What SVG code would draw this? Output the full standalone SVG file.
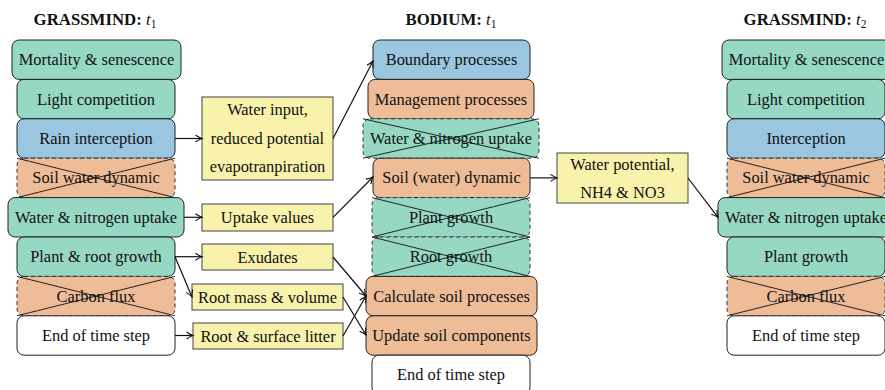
<svg xmlns="http://www.w3.org/2000/svg" width="885" height="390" viewBox="0 0 885 390">
<style>
text{font-family:"Liberation Serif","Times New Roman",serif;fill:#111;}
.lbl{font-size:16.4px;text-anchor:middle;dominant-baseline:central;}
.ttl{font-size:16.8px;text-anchor:middle;font-weight:bold;}
.mi{font-style:italic;font-weight:normal;}
.sub{font-size:11.5px;font-weight:normal;font-style:normal;}
.box{stroke:#222;stroke-width:1;}
.dash{stroke:#333;stroke-width:1;stroke-dasharray:4,3;}
.teal{fill:#97D8C5;}
.blue{fill:#9AC6E0;}
.orange{fill:#EEBD98;}
.white{fill:#fff;}
.yel{fill:#F8F2AC;stroke:#444;stroke-width:1;}
.cross{stroke:#111;stroke-width:0.9;fill:none;}
.conn line{stroke:#111;stroke-width:1.2;marker-end:url(#arr);}
</style>
<defs>
<marker id="arr" markerUnits="userSpaceOnUse" markerWidth="10" markerHeight="10" refX="8" refY="5" orient="auto">
<path d="M1.5,1.5 Q5,4 8,5 Q5,6 1.5,8.5" fill="none" stroke="#111" stroke-width="1.1"/>
</marker>
</defs>

<!-- Titles -->
<text class="ttl" x="95" y="25">GRASSMIND: <tspan class="mi">t</tspan><tspan class="sub" dy="3">1</tspan></text>
<text class="ttl" x="451" y="25">BODIUM: <tspan class="mi">t</tspan><tspan class="sub" dy="3">1</tspan></text>
<text class="ttl" x="805" y="25">GRASSMIND: <tspan class="mi">t</tspan><tspan class="sub" dy="3">2</tspan></text>

<!-- Left column -->
<g id="g1-mortality"><rect class="box teal" x="12" y="40" width="169" height="39.4" rx="7"/><text class="lbl" x="96.5" y="59.7">Mortality &amp; senescence</text></g>
<g id="g1-light"><rect class="box teal" x="17" y="79.4" width="158" height="39.4" rx="7"/><text class="lbl" x="96" y="99.1">Light competition</text></g>
<g id="g1-rain"><rect class="box blue" x="17" y="118.8" width="158" height="39.4" rx="7"/><text class="lbl" x="96" y="138.5">Rain interception</text></g>
<g id="g1-soilwater"><rect class="dash orange" x="17" y="158.2" width="158" height="39.4" rx="7"/><text class="lbl" x="96" y="177.9">Soil water dynamic</text><path class="cross" d="M17,158.2 L175,197.6 M17,197.6 L175,158.2"/></g>
<g id="g1-uptake"><rect class="box teal" x="8" y="197.6" width="176" height="39.4" rx="7"/><text class="lbl" x="96" y="217.3">Water &amp; nitrogen uptake</text></g>
<g id="g1-growth"><rect class="box teal" x="17" y="237" width="158" height="39.4" rx="7"/><text class="lbl" x="96" y="256.7">Plant &amp; root growth</text></g>
<g id="g1-carbon"><rect class="dash orange" x="17" y="276.4" width="158" height="39.4" rx="7"/><text class="lbl" x="96" y="296.1">Carbon flux</text><path class="cross" d="M17,276.4 L175,315.8 M17,315.8 L175,276.4"/></g>
<g id="g1-end"><rect class="box white" x="17" y="315.8" width="158" height="39.4" rx="7"/><text class="lbl" x="96" y="335.5">End of time step</text></g>

<!-- Middle column -->
<g id="b-boundary"><rect class="box blue" x="373" y="40" width="157" height="39.4" rx="7"/><text class="lbl" x="451.5" y="59.7">Boundary processes</text></g>
<g id="b-management"><rect class="box orange" x="368" y="79.4" width="166" height="39.4" rx="7"/><text class="lbl" x="451" y="99.1">Management processes</text></g>
<g id="b-uptake"><rect class="dash teal" x="363" y="118.8" width="176" height="39.4" rx="7"/><text class="lbl" x="451" y="138.5">Water &amp; nitrogen uptake</text><path class="cross" d="M363,118.8 L539,158.2 M363,158.2 L539,118.8"/></g>
<g id="b-soil"><rect class="box orange" x="373" y="158.2" width="157" height="39.4" rx="7"/><text class="lbl" x="451.5" y="177.9">Soil (water) dynamic</text></g>
<g id="b-plant"><rect class="dash teal" x="372" y="197.6" width="158" height="39.4" rx="7"/><text class="lbl" x="451" y="217.3">Plant growth</text><path class="cross" d="M372,197.6 L530,237 M372,237 L530,197.6"/></g>
<g id="b-root"><rect class="dash teal" x="372" y="237" width="158" height="39.4" rx="7"/><text class="lbl" x="451" y="256.7">Root growth</text><path class="cross" d="M372,237 L530,276.4 M372,276.4 L530,237"/></g>
<g id="b-calc"><rect class="box orange" x="366" y="276.4" width="171" height="39.4" rx="7"/><text class="lbl" x="451.5" y="296.1">Calculate soil processes</text></g>
<g id="b-update"><rect class="box orange" x="366" y="315.8" width="171" height="39.4" rx="7"/><text class="lbl" x="451.5" y="335.5">Update soil components</text></g>
<g id="b-end"><rect class="box white" x="372" y="355.2" width="158" height="39.4" rx="7"/><text class="lbl" x="451" y="374.9">End of time step</text></g>

<!-- Right column -->
<g id="g2-mortality"><rect class="box teal" x="722" y="40" width="169" height="39.4" rx="7"/><text class="lbl" x="806.5" y="59.7">Mortality &amp; senescence</text></g>
<g id="g2-light"><rect class="box teal" x="727" y="79.4" width="158" height="39.4" rx="7"/><text class="lbl" x="806" y="99.1">Light competition</text></g>
<g id="g2-interception"><rect class="box blue" x="727" y="118.8" width="158" height="39.4" rx="7"/><text class="lbl" x="806" y="138.5">Interception</text></g>
<g id="g2-soilwater"><rect class="dash orange" x="727" y="158.2" width="158" height="39.4" rx="7"/><text class="lbl" x="806" y="177.9">Soil water dynamic</text><path class="cross" d="M727,158.2 L885,197.6 M727,197.6 L885,158.2"/></g>
<g id="g2-uptake"><rect class="box teal" x="718" y="197.6" width="176" height="39.4" rx="7"/><text class="lbl" x="806" y="217.3">Water &amp; nitrogen uptake</text></g>
<g id="g2-growth"><rect class="box teal" x="727" y="237" width="158" height="39.4" rx="7"/><text class="lbl" x="806" y="256.7">Plant growth</text></g>
<g id="g2-carbon"><rect class="dash orange" x="727" y="276.4" width="158" height="39.4" rx="7"/><text class="lbl" x="806" y="296.1">Carbon flux</text><path class="cross" d="M727,276.4 L885,315.8 M727,315.8 L885,276.4"/></g>
<g id="g2-end"><rect class="box white" x="727" y="315.8" width="158" height="39.4" rx="7"/><text class="lbl" x="806" y="335.5">End of time step</text></g>

<!-- Exchange boxes -->
<g id="x-water"><rect class="yel" x="202" y="97" width="131" height="83"/><text class="lbl" x="267.5" y="109">Water input,</text><text class="lbl" x="267.5" y="138">reduced potential</text><text class="lbl" x="267.5" y="166">evapotranpiration</text></g>
<g id="x-uptake"><rect class="yel" x="202" y="204" width="131" height="27"/><text class="lbl" x="267.5" y="217.5">Uptake values</text></g>
<g id="x-exudates"><rect class="yel" x="202" y="244" width="131" height="26"/><text class="lbl" x="267.5" y="257">Exudates</text></g>
<g id="x-rootmass"><rect class="yel" x="192" y="284" width="151" height="26"/><text class="lbl" x="267.5" y="297">Root mass &amp; volume</text></g>
<g id="x-litter"><rect class="yel" x="193" y="323" width="150" height="26"/><text class="lbl" x="268" y="336">Root &amp; surface litter</text></g>
<g id="x-potential"><rect class="yel" x="557" y="153" width="131" height="50"/><text class="lbl" x="622.5" y="164.5">Water potential,</text><text class="lbl" x="622.5" y="192.5">NH4 &amp; NO3</text></g>

<!-- Connectors -->
<g id="connectors" class="conn">
<line x1="175" y1="138.5" x2="202" y2="138.5"/>
<line x1="333" y1="138.5" x2="373" y2="61"/>
<line x1="184" y1="217.3" x2="202" y2="217.3"/>
<line x1="333" y1="217.3" x2="373" y2="177"/>
<line x1="175" y1="256.7" x2="202" y2="256.7"/>
<line x1="175" y1="256.7" x2="192" y2="297"/>
<line x1="175" y1="335.5" x2="193" y2="335.5"/>
<line x1="333" y1="257" x2="366" y2="296"/>
<line x1="343" y1="297" x2="366" y2="335"/>
<line x1="343" y1="336" x2="366" y2="296"/>
<line x1="530" y1="177.9" x2="557" y2="177.9"/>
<line x1="688" y1="178" x2="718" y2="217.3"/>
</g>
</svg>
